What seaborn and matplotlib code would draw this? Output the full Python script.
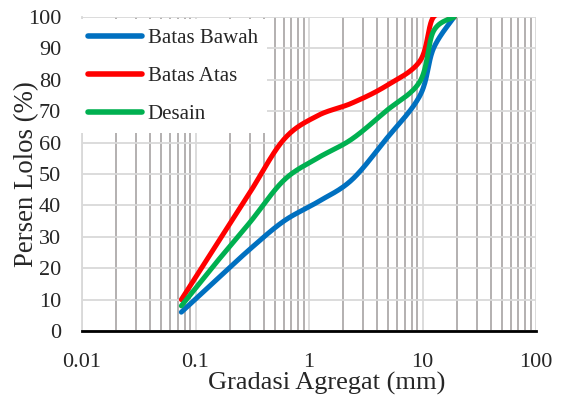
import numpy as np
import pandas as pd
import matplotlib
matplotlib.use("Agg")
import matplotlib.pyplot as plt
import seaborn as sns
from matplotlib.ticker import FixedLocator, FixedFormatter, LogLocator, NullFormatter

# sieve sizes (mm) and percent passing
sieve_mm = [0.075, 0.15, 0.3, 0.6, 1.18, 2.36, 4.75, 9.5, 12.5, 19]
batas_bawah = [6, 16, 26, 35, 41, 48, 61, 75, 90, 100]
batas_atas = [10, 27, 44, 61, 68.5, 72.5, 78, 86, 100, 100]
desain = [8, 21.5, 34.5, 48, 55, 61, 70, 79.5, 95.5, 100]

series_names = ["Batas Bawah", "Batas Atas", "Desain"]
series_colors = ["#0070C0", "#FF0000", "#00B050"]
x_ticks = [0.01, 0.1, 1, 10, 100]
x_tick_labels = ["0.01", "0.1", "1", "10", "100"]
y_ticks = list(range(0, 101, 10))


def smooth_line(xs, ys, steps=30):
    # Excel style "smoothed line": Catmull-Rom curve in log-x space
    lx = np.log10(xs)
    pts = np.column_stack([lx, ys])
    pts = np.vstack([pts[0], pts, pts[-1]])
    out = []
    for i in range(1, len(pts) - 2):
        p0, p1, p2, p3 = pts[i - 1], pts[i], pts[i + 1], pts[i + 2]
        t = np.linspace(0, 1, steps, endpoint=False)[:, None]
        seg = 0.5 * ((2 * p1) + (-p0 + p2) * t + (2 * p0 - 5 * p1 + 4 * p2 - p3) * t ** 2
                     + (-p0 + 3 * p1 - 3 * p2 + p3) * t ** 3)
        out.append(seg)
    out.append(pts[-2][None, :])
    out = np.vstack(out)
    return 10 ** out[:, 0], out[:, 1]


frames = []
for name, vals in zip(series_names, [batas_bawah, batas_atas, desain]):
    sx, sy = smooth_line(sieve_mm, vals)
    frames.append(pd.DataFrame({"size": sx, "pass": sy, "series": name}))
df = pd.concat(frames, ignore_index=True)

sns.set_style("white")
plt.rcParams["font.family"] = ["Liberation Serif", "DejaVu Serif"]

fig = plt.figure(figsize=(5.64, 3.95), dpi=100)
ax = fig.add_axes([0.1454, 0.162, 0.805, 0.795])

sns.lineplot(data=df, x="size", y="pass", hue="series", hue_order=series_names,
             palette=series_colors, sort=False, estimator=None,
             linewidth=3.6, ax=ax)

ax.set_xscale("log")
ax.set_xlim(0.01, 100)
ax.set_ylim(0, 100)
ax.xaxis.set_major_locator(FixedLocator(x_ticks))
ax.xaxis.set_major_formatter(FixedFormatter(x_tick_labels))
ax.xaxis.set_minor_locator(LogLocator(base=10, subs=np.arange(2, 10)))
ax.xaxis.set_minor_formatter(NullFormatter())
ax.set_yticks(y_ticks)

ax.grid(True, which="major", axis="both", color="#d9d9d9", linewidth=1.3)
ax.grid(True, which="minor", axis="x", color="#aeaaaa", linewidth=1.3)
ax.set_axisbelow(True)

for side in ["top", "right"]:
    ax.spines[side].set_visible(False)
ax.spines["left"].set_color("#d9d9d9")
ax.spines["left"].set_linewidth(1.3)
ax.spines["bottom"].set_color("black")
ax.spines["bottom"].set_linewidth(2)

ax.tick_params(axis="both", which="both", length=0, labelsize=16)
ax.tick_params(axis="y", pad=15)
ax.tick_params(axis="x", pad=15.5)

ax.set_xlabel("Gradasi Agregat (mm)", fontsize=19, labelpad=0, x=0.54)
ax.set_ylabel("Persen Lolos (%)", fontsize=19.3, labelpad=-8)

leg = ax.legend(loc="upper left", frameon=True, fontsize=15, borderaxespad=0,
                bbox_to_anchor=(-0.005, 0.992),
                handlelength=2.55, handletextpad=0.3, labelspacing=0.9,
                borderpad=0.42, fancybox=False)
leg.get_frame().set_facecolor("white")
leg.get_frame().set_edgecolor("none")
leg.get_frame().set_alpha(1)
for line in leg.get_lines():
    line.set_linewidth(4)

fig.savefig("out.png", dpi=100)
